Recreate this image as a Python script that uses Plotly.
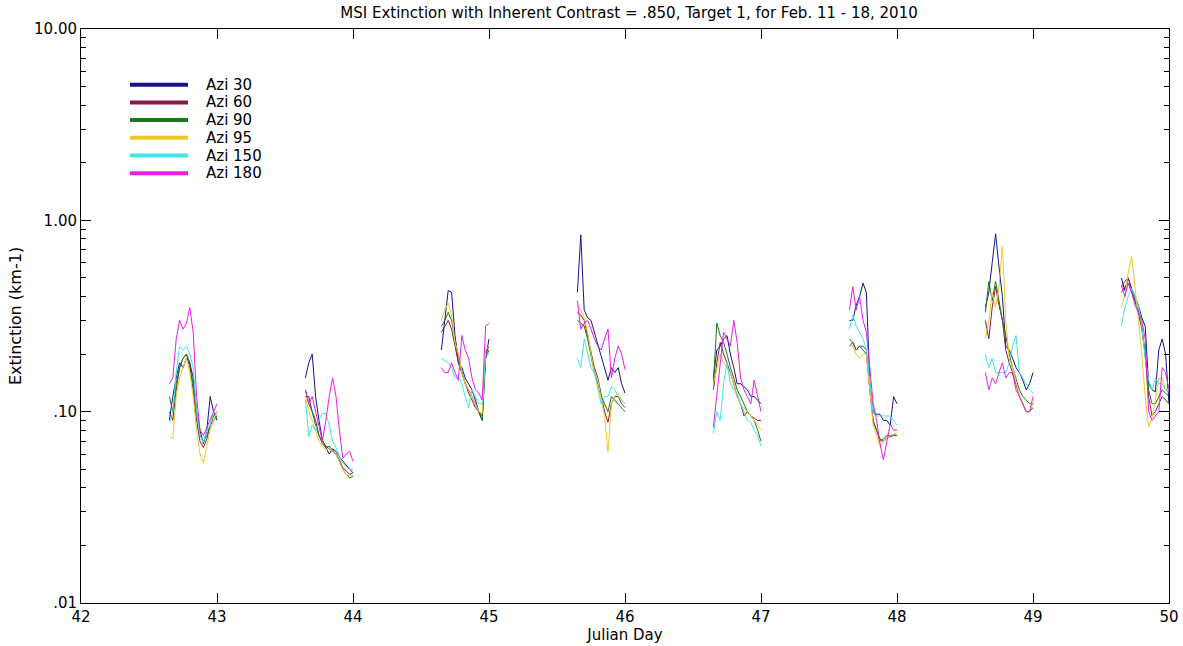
import plotly.graph_objects as go

# ---------------- data ----------------
days = [42, 43, 44, 45, 46, 47, 48, 49]
day_fraction = [0.650, 0.675, 0.700, 0.725, 0.750, 0.775, 0.800, 0.825,
                0.850, 0.875, 0.900, 0.925, 0.950, 0.975, 1.000]

azi30 = [
    [0.09, 0.12, 0.15, 0.18, 0.17, 0.19, 0.18, 0.15, 0.10, 0.08, 0.068, 0.08, 0.12, 0.10, 0.09],
    [0.15, 0.18, 0.20, 0.12, 0.09, 0.071, 0.065, 0.06, 0.064, 0.062, 0.058, 0.055, 0.052, 0.05, 0.048],
    [0.21, 0.30, 0.43, 0.42, 0.25, 0.18, 0.17, 0.15, 0.14, 0.13, 0.115, 0.10, 0.09, 0.19, 0.24],
    [0.42, 0.84, 0.34, 0.31, 0.30, 0.26, 0.22, 0.19, 0.17, 0.146, 0.17, 0.16, 0.17, 0.14, 0.125],
    [0.15, 0.21, 0.22, 0.24, 0.25, 0.20, 0.17, 0.14, 0.14, 0.135, 0.13, 0.12, 0.12, 0.115, 0.11],
    [0.30, 0.30, 0.36, 0.40, 0.47, 0.42, 0.14, 0.10, 0.097, 0.097, 0.09, 0.09, 0.085, 0.12, 0.11],
    [0.35, 0.42, 0.60, 0.85, 0.57, 0.40, 0.22, 0.21, 0.19, 0.17, 0.16, 0.146, 0.13, 0.14, 0.16],
    [0.50, 0.43, 0.50, 0.44, 0.40, 0.36, 0.31, 0.28, 0.14, 0.13, 0.127, 0.21, 0.24, 0.20, 0.11],
]
azi60 = [
    [0.10, 0.09, 0.13, 0.17, 0.19, 0.20, 0.18, 0.13, 0.09, 0.07, 0.065, 0.072, 0.085, 0.095, 0.10],
    [0.12, 0.12, 0.10, 0.09, 0.075, 0.07, 0.066, 0.064, 0.062, 0.06, 0.056, 0.051, 0.049, 0.047, 0.048],
    [0.26, 0.28, 0.30, 0.27, 0.22, 0.18, 0.16, 0.14, 0.125, 0.115, 0.105, 0.10, 0.095, 0.20, 0.22],
    [0.33, 0.32, 0.30, 0.25, 0.21, 0.17, 0.15, 0.12, 0.10, 0.088, 0.11, 0.12, 0.12, 0.11, 0.105],
    [0.13, 0.18, 0.23, 0.20, 0.18, 0.16, 0.14, 0.12, 0.11, 0.095, 0.10, 0.095, 0.092, 0.09, 0.09],
    [0.22, 0.23, 0.21, 0.22, 0.21, 0.20, 0.13, 0.09, 0.08, 0.072, 0.07, 0.073, 0.074, 0.075, 0.075],
    [0.30, 0.24, 0.35, 0.45, 0.36, 0.30, 0.21, 0.18, 0.16, 0.14, 0.12, 0.11, 0.10, 0.10, 0.105],
    [0.45, 0.48, 0.50, 0.44, 0.38, 0.33, 0.27, 0.20, 0.12, 0.095, 0.10, 0.11, 0.12, 0.115, 0.11],
]
azi90 = [
    [0.12, 0.10, 0.14, 0.17, 0.19, 0.20, 0.17, 0.14, 0.10, 0.075, 0.07, 0.075, 0.085, 0.09, 0.095],
    [0.13, 0.11, 0.10, 0.085, 0.075, 0.068, 0.065, 0.066, 0.063, 0.06, 0.055, 0.05, 0.047, 0.045, 0.046],
    [0.28, 0.30, 0.33, 0.30, 0.24, 0.20, 0.16, 0.14, 0.13, 0.12, 0.11, 0.10, 0.09, 0.19, 0.21],
    [0.30, 0.29, 0.28, 0.24, 0.20, 0.16, 0.14, 0.12, 0.11, 0.10, 0.12, 0.115, 0.11, 0.105, 0.10],
    [0.14, 0.29, 0.25, 0.23, 0.20, 0.17, 0.15, 0.13, 0.12, 0.11, 0.10, 0.095, 0.09, 0.08, 0.07],
    [0.24, 0.23, 0.21, 0.22, 0.22, 0.21, 0.14, 0.088, 0.08, 0.07, 0.072, 0.075, 0.075, 0.076, 0.077],
    [0.33, 0.48, 0.38, 0.48, 0.38, 0.30, 0.25, 0.20, 0.17, 0.15, 0.13, 0.12, 0.115, 0.11, 0.11],
    [0.42, 0.45, 0.47, 0.42, 0.38, 0.34, 0.28, 0.20, 0.13, 0.11, 0.11, 0.12, 0.13, 0.125, 0.12],
]
azi95 = [
    [0.074, 0.072, 0.12, 0.15, 0.17, 0.19, 0.16, 0.12, 0.08, 0.06, 0.054, 0.065, 0.08, 0.09, 0.10],
    [0.12, 0.10, 0.09, 0.08, 0.07, 0.066, 0.063, 0.065, 0.062, 0.06, 0.055, 0.05, 0.047, 0.046, 0.047],
    [0.30, 0.34, 0.37, 0.32, 0.23, 0.20, 0.16, 0.14, 0.13, 0.12, 0.11, 0.10, 0.098, 0.21, 0.22],
    [0.36, 0.34, 0.31, 0.26, 0.20, 0.16, 0.146, 0.115, 0.094, 0.062, 0.11, 0.12, 0.125, 0.115, 0.11],
    [0.14, 0.17, 0.20, 0.18, 0.17, 0.16, 0.14, 0.12, 0.11, 0.105, 0.10, 0.095, 0.09, 0.085, 0.08],
    [0.22, 0.22, 0.20, 0.19, 0.20, 0.20, 0.13, 0.085, 0.075, 0.066, 0.07, 0.072, 0.075, 0.076, 0.077],
    [0.24, 0.30, 0.42, 0.35, 0.45, 0.73, 0.30, 0.19, 0.17, 0.14, 0.12, 0.11, 0.10, 0.10, 0.11],
    [0.35, 0.40, 0.53, 0.65, 0.45, 0.30, 0.20, 0.12, 0.083, 0.093, 0.115, 0.15, 0.15, 0.13, 0.13],
]
azi150 = [
    [0.088, 0.10, 0.16, 0.22, 0.21, 0.22, 0.20, 0.17, 0.10, 0.075, 0.069, 0.08, 0.085, 0.10, 0.095],
    [0.115, 0.074, 0.085, 0.08, 0.09, 0.098, 0.098, 0.085, 0.07, 0.065, 0.058, 0.054, 0.052, 0.05, 0.05],
    [0.19, 0.185, 0.18, 0.17, 0.15, 0.15, 0.14, 0.12, 0.105, 0.13, 0.12, 0.11, 0.11, 0.20, 0.20],
    [0.19, 0.17, 0.24, 0.20, 0.17, 0.16, 0.135, 0.11, 0.12, 0.12, 0.135, 0.13, 0.12, 0.115, 0.11],
    [0.077, 0.10, 0.09, 0.14, 0.18, 0.14, 0.13, 0.125, 0.11, 0.10, 0.09, 0.088, 0.08, 0.075, 0.066],
    [0.27, 0.32, 0.28, 0.26, 0.24, 0.21, 0.14, 0.098, 0.095, 0.095, 0.095, 0.095, 0.095, 0.09, 0.085],
    [0.20, 0.17, 0.19, 0.16, 0.16, 0.16, 0.16, 0.18, 0.22, 0.25, 0.16, 0.15, 0.14, 0.13, 0.125],
    [0.28, 0.35, 0.40, 0.44, 0.40, 0.36, 0.28, 0.19, 0.146, 0.13, 0.15, 0.14, 0.14, 0.13, 0.13],
]
azi180 = [
    [0.14, 0.15, 0.24, 0.30, 0.27, 0.29, 0.35, 0.26, 0.12, 0.08, 0.075, 0.083, 0.09, 0.10, 0.11],
    [0.13, 0.11, 0.12, 0.10, 0.085, 0.07, 0.09, 0.12, 0.15, 0.12, 0.08, 0.057, 0.06, 0.062, 0.055],
    [0.17, 0.16, 0.16, 0.18, 0.16, 0.146, 0.25, 0.21, 0.19, 0.15, 0.13, 0.125, 0.115, 0.28, 0.29],
    [0.38, 0.27, 0.29, 0.30, 0.27, 0.24, 0.22, 0.21, 0.24, 0.27, 0.15, 0.19, 0.22, 0.20, 0.166],
    [0.083, 0.12, 0.17, 0.26, 0.24, 0.22, 0.30, 0.23, 0.15, 0.13, 0.12, 0.11, 0.146, 0.12, 0.10],
    [0.34, 0.45, 0.34, 0.40, 0.30, 0.26, 0.17, 0.11, 0.09, 0.068, 0.056, 0.07, 0.086, 0.08, 0.08],
    [0.16, 0.13, 0.15, 0.14, 0.16, 0.18, 0.15, 0.16, 0.16, 0.13, 0.12, 0.11, 0.10, 0.10, 0.12],
    [0.46, 0.40, 0.47, 0.42, 0.36, 0.33, 0.30, 0.24, 0.10, 0.09, 0.095, 0.10, 0.17, 0.16, 0.13],
]

series_names = ["Azi 30", "Azi 60", "Azi 90", "Azi 95", "Azi 150", "Azi 180"]
series_values = [azi30, azi60, azi90, azi95, azi150, azi180]
series_colors = ["#14148c", "#8c1a46", "#1a7a1a", "#f0c828", "#40e6e6", "#e61ee6"]

x_ticks = [42, 43, 44, 45, 46, 47, 48, 49, 50]
y_ticks = [0.01, 0.1, 1, 10]
y_ticktext = [".01", ".10", "1.00", "10.00"]
y_minor = [m * 10 ** e for e in (-2, -1, 0) for m in range(2, 10)]

FONT = "DejaVu Sans, Verdana, sans-serif"

# figure geometry (pixels)
W, H = 1183, 646
ML, MR, MT, MB = 81, 14, 29, 43
PW, PH = W - ML - MR, H - MT - MB


def build(segments):
    xs, ys = [], []
    for d, seg in zip(days, segments):
        for f, v in zip(day_fraction, seg):
            xs.append(d + f)
            ys.append(v)
        xs.append(None)
        ys.append(None)
    return xs, ys


fig = go.Figure()
for name, vals, col in zip(series_names, series_values, series_colors):
    xs, ys = build(vals)
    fig.add_trace(go.Scatter(x=xs, y=ys, mode="lines", name=name,
                             line=dict(color=col, width=1),
                             showlegend=False, connectgaps=False))

# hand-drawn key (legend) in the upper left of the plot area
shapes, annotations = [], []
for i, (name, col) in enumerate(zip(series_names, series_colors)):
    ypx = 84.7 + 17.7 * i
    yp = 1 - (ypx - MT) / PH
    shapes.append(dict(type="line", xref="paper", yref="paper",
                       x0=(130 - ML) / PW, x1=(188 - ML) / PW, y0=yp, y1=yp,
                       line=dict(color=col, width=4)))
    annotations.append(dict(text=name, xref="paper", yref="paper",
                            x=(204 - ML) / PW, y=yp, xanchor="left", yanchor="middle",
                            showarrow=False, font=dict(size=15, family=FONT, color="black")))

fig.update_layout(
    width=W, height=H,
    margin=dict(l=ML, r=MR, t=MT, b=MB, autoexpand=False),
    paper_bgcolor="white", plot_bgcolor="white",
    font=dict(family=FONT, size=15, color="black"),
    showlegend=False,
    shapes=shapes, annotations=annotations,
    title=dict(text="MSI Extinction with Inherent Contrast = .850, Target 1, for Feb. 11 - 18, 2010",
               x=(ML + PW / 2) / W + 4 / W, xanchor="center", y=1 - 13 / H, yanchor="middle",
               font=dict(size=15, family=FONT, color="black")),
    xaxis=dict(range=[42, 50], tickvals=x_ticks, ticks="inside", ticklen=10,
               tickcolor="black", showline=True, linecolor="black", linewidth=1,
               mirror="allticks", showgrid=False, zeroline=False, automargin=False,
               tickfont=dict(size=15, family=FONT),
               title=dict(text="Julian Day", standoff=2, font=dict(size=15, family=FONT))),
    yaxis=dict(type="log", range=[-2, 1], tickvals=y_ticks, ticktext=y_ticktext,
               ticks="inside", ticklen=10, tickcolor="black",
               showline=True, linecolor="black", linewidth=1, mirror="allticks",
               showgrid=False, zeroline=False, automargin=False,
               minor=dict(tickvals=y_minor, ticks="inside", ticklen=5, tickcolor="black", showgrid=False),
               tickfont=dict(size=15, family=FONT),
               title=dict(text="Extinction (km-1)", standoff=8, font=dict(size=16, family=FONT))),
)

fig.write_html("out.html")
